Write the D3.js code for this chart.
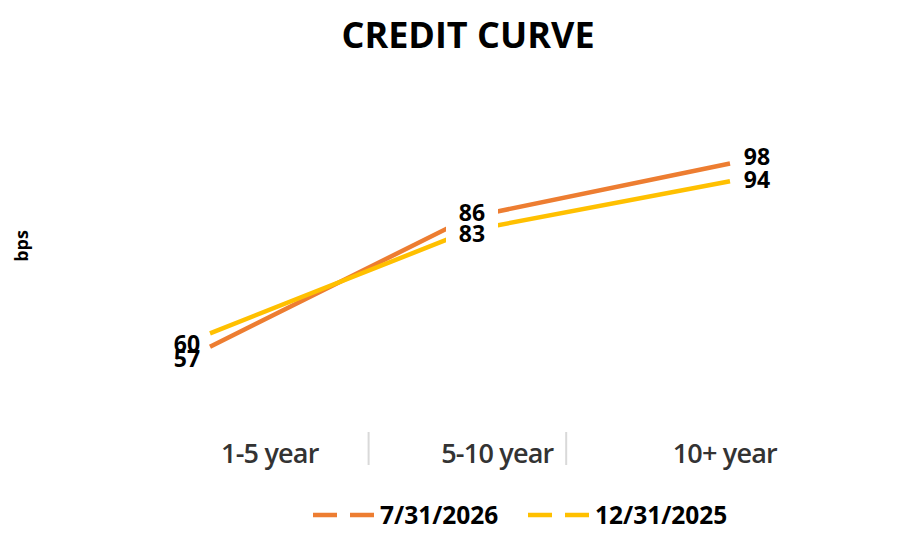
<!DOCTYPE html>
<html>
<head>
<meta charset="utf-8">
<script src="https://cdn.jsdelivr.net/npm/d3@7"></script>
<style>
  body { margin: 0; background: #fff; }
  svg { display: block; font-family: "Open Sans", "DejaVu Sans", sans-serif; }
</style>
</head>
<body>
<div id="chart"></div>
<script>
// chart values
var categories = ["1-5 year", "5-10 year", "10+ year"];
var seriesNames = ["7/31/2026", "12/31/2025"];
var series2026 = [57, 86, 98];
var series2025 = [60, 83, 94];
var seriesColors = ["#ED7D31", "#FFC000"];

var width = 924, height = 550;

var svg = d3.select("#chart").append("svg")
  .attr("width", width)
  .attr("height", height);

// title
svg.append("text")
  .attr("x", 468)
  .attr("y", 48)
  .attr("text-anchor", "middle")
  .style("font-size", "36px")
  .style("font-weight", "bold")
  .style("fill", "#000")
  .text("CREDIT CURVE");

// y label
svg.append("text")
  .attr("transform", "translate(28,246) rotate(-90)")
  .attr("text-anchor", "middle")
  .style("font-size", "18px")
  .style("font-weight", "bold")
  .text("bps");

var x = d3.scalePoint().domain(categories).range([210, 730]);
var y = d3.scaleLinear().domain([50, 100]).range([378, 154.5]);

// category axis: labels sit a bit off the points, like in the original
var xi = d3.scaleLinear().domain([0, categories.length - 1]).range([210, 730]);
var labelIdx = [0.23, 1.105, 1.98];
var sepIdx = [0.61, 1.37];

var xAxis = svg.append("g")
  .attr("class", "x axis")
  .attr("transform", "translate(0,440)");

xAxis.selectAll(".sep")
  .data(sepIdx)
  .enter().append("line")
  .attr("class", "sep")
  .attr("x1", function(d) { return xi(d); })
  .attr("x2", function(d) { return xi(d); })
  .attr("y1", -8)
  .attr("y2", 25)
  .style("stroke", "#d9d9d9")
  .style("stroke-width", 2);

xAxis.selectAll(".tick-label")
  .data(categories)
  .enter().append("text")
  .attr("class", "tick-label")
  .attr("x", function(d, i) { return xi(labelIdx[i]); })
  .attr("y", 23)
  .attr("text-anchor", "middle")
  .style("font-size", "27px")
  .style("font-weight", "600")
  .style("fill", "#333")
  .style("letter-spacing", "-0.8px")
  .text(function(d) { return d; });

var series = [
  { name: seriesNames[0], values: series2026, color: seriesColors[0],
    off: [[-23, 12], [2, -4], [27, -7]] },
  { name: seriesNames[1], values: series2025, color: seriesColors[1],
    off: [[-23, 10], [2, 3], [27, -2]] }
];

var line = d3.line()
  .x(function(d, i) { return x(categories[i]); })
  .y(function(d) { return y(d); });

svg.selectAll(".series-line")
  .data(series)
  .enter().append("path")
  .attr("class", "series-line")
  .attr("d", function(s) { return line(s.values); })
  .style("fill", "none")
  .style("stroke", function(s) { return s.color; })
  .style("stroke-width", 4.5);

// data labels (white boxes behind them break the lines in the middle)
var labels = [];
series.forEach(function(s) {
  s.values.forEach(function(v, i) {
    labels.push({ v: v, cx: x(categories[i]) + s.off[i][0], cy: y(v) + s.off[i][1], mid: i === 1 });
  });
});

svg.selectAll(".lbl-bg")
  .data(labels.filter(function(d) { return d.mid; }))
  .enter().append("rect")
  .attr("class", "lbl-bg")
  .attr("x", function(d) { return d.cx - 26; })
  .attr("y", function(d) { return d.cy - 14; })
  .attr("width", 52)
  .attr("height", 28)
  .style("fill", "#fff");

svg.selectAll(".lbl")
  .data(labels)
  .enter().append("text")
  .attr("class", "lbl")
  .attr("x", function(d) { return d.cx; })
  .attr("y", function(d) { return d.cy; })
  .attr("dy", "0.36em")
  .attr("text-anchor", "middle")
  .style("font-size", "23px")
  .style("font-weight", "bold")
  .style("fill", "#000")
  .text(function(d) { return d.v; });

// legend
var legend = svg.selectAll(".legend")
  .data(series)
  .enter().append("g")
  .attr("class", "legend")
  .attr("transform", function(d, i) { return "translate(" + [313, 528][i] + ",515)"; });

legend.append("line")
  .attr("x1", 0)
  .attr("x2", 62)
  .attr("y1", 0)
  .attr("y2", 0)
  .style("stroke", function(d) { return d.color; })
  .style("stroke-width", 4.5)
  .style("stroke-dasharray", "24,13");

legend.append("text")
  .attr("x", 67)
  .attr("y", 0)
  .attr("dy", "0.36em")
  .style("font-size", "24.5px")
  .style("font-weight", "bold")
  .style("fill", "#000")
  .text(function(d) { return d.name; });
</script>
</body>
</html>
